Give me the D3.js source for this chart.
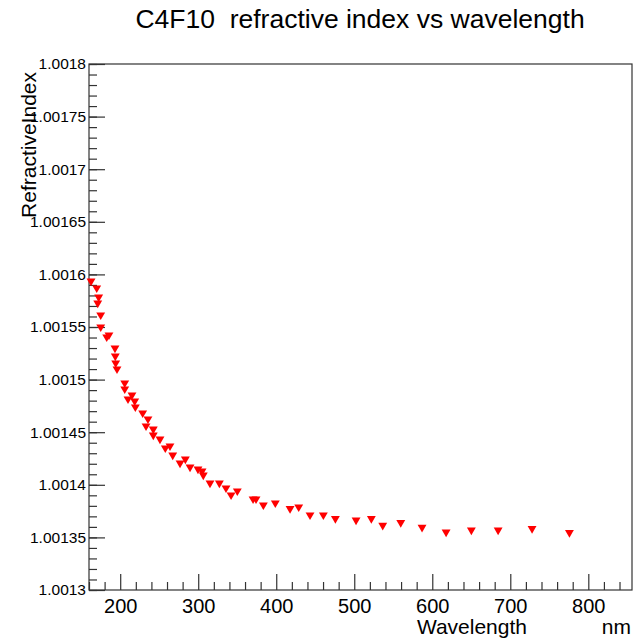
<!DOCTYPE html>
<html lang="en">
  <head>
    <meta charset="utf-8">
    <title>C4F10 refractive index</title>
    <script src="https://cdn.jsdelivr.net/npm/d3@7"></script>
    <style>
      body { margin: 0; background: #fff; }
      text { font-family: "Liberation Sans", Arial, sans-serif; fill: #000; white-space: pre; }
      .axis path, .axis line { stroke: #333; stroke-width: 1.2; }
      .point { fill: #ff0000; }
    </style>
  </head>
  <body>
    <script>
      // wavelength (nm) and refractive index
      var wavelength = [162.6, 169.9, 172.4, 171.2, 175.0, 175.0, 182.7, 185.6, 193.3, 193.7,
                        194.2, 195.9, 205.8, 205.8, 215.1, 210.0, 218.6, 219.4, 228.8, 235.6,
                        233.1, 242.4, 242.4, 251.0, 257.8, 263.8, 267.3, 276.7, 283.5, 289.5,
                        299.7, 304.9, 306.5, 315.1, 327.1, 335.6, 342.1, 350.1, 370.3, 374.1,
                        383.5, 398.8, 417.7, 428.8, 443.3, 460.4, 475.8, 502.3, 521.9, 536.5,
                        559.6, 586.9, 617.7, 650.1, 684.4, 727.9, 775.8];
      var refIndex = [1.0015937, 1.0015871, 1.0015785, 1.0015728, 1.0015614, 1.0015500, 1.0015405, 1.0015424, 1.0015300, 1.0015224,
                      1.0015158, 1.0015101, 1.0014968, 1.0014911, 1.0014854, 1.0014816, 1.0014797, 1.0014740, 1.0014683, 1.0014626,
                      1.0014559, 1.0014530, 1.0014473, 1.0014435, 1.0014350, 1.0014369, 1.0014283, 1.0014207, 1.0014245, 1.0014169,
                      1.0014150, 1.0014131, 1.0014093, 1.0014017, 1.0014017, 1.0013970, 1.0013903, 1.0013941, 1.0013865, 1.0013865,
                      1.0013808, 1.0013827, 1.0013773, 1.0013789, 1.0013713, 1.0013713, 1.0013678, 1.0013665, 1.0013678, 1.0013615,
                      1.0013640, 1.0013596, 1.0013551, 1.0013570, 1.0013570, 1.0013583, 1.0013545];

      var xTicks = [200, 300, 400, 500, 600, 700, 800];
      var yTickLabels = ["1.0013", "1.00135", "1.0014", "1.00145", "1.0015", "1.00155",
                         "1.0016", "1.00165", "1.0017", "1.00175", "1.0018"];
      var xDomain = [160, 856];
      var yDomain = [1.0013, 1.0018];

      var w = 635, h = 638;
      var m = {left: 89, right: 632, top: 64, bottom: 590};

      var dataset = wavelength.map(function (d, i) { return {x: d, y: refIndex[i]}; });

      var svg = d3.select("body").append("svg")
                  .attr("width", w)
                  .attr("height", h);

      var xScale = d3.scaleLinear().domain(xDomain).range([m.left, m.right]);
      var yScale = d3.scaleLinear().domain(yDomain).range([m.bottom, m.top]);

      // frame
      svg.append("rect")
         .attr("x", m.left).attr("y", m.top)
         .attr("width", m.right - m.left).attr("height", m.bottom - m.top)
         .attr("fill", "none").attr("stroke", "#333").attr("stroke-width", 1.2);

      // minor ticks
      var xMinor = d3.range(160, 857, 20).filter(function (v) { return v % 100 !== 0; });
      var yMinor = d3.range(0, 51).map(function (i) { return 1.0013 + i * 0.00001; });

      svg.append("g")
         .attr("class", "axis")
         .attr("transform", "translate(0," + m.bottom + ")")
         .call(d3.axisBottom(xScale).tickValues(xMinor).tickSize(-8).tickFormat(""))
         .select(".domain").remove();

      svg.append("g")
         .attr("class", "axis")
         .attr("transform", "translate(" + m.left + ",0)")
         .call(d3.axisLeft(yScale).tickValues(yMinor).tickSize(-8).tickFormat(""))
         .select(".domain").remove();

      // major ticks with labels
      var xAxis = svg.append("g")
         .attr("class", "axis")
         .attr("transform", "translate(0," + m.bottom + ")")
         .call(d3.axisBottom(xScale).tickValues(xTicks).tickSize(-16).tickPadding(8)
                 .tickFormat(d3.format("d")));
      xAxis.select(".domain").remove();
      xAxis.selectAll("text").attr("font-size", 20).attr("dy", "0.75em");

      var yAxis = svg.append("g")
         .attr("class", "axis")
         .attr("transform", "translate(" + m.left + ",0)")
         .call(d3.axisLeft(yScale)
                 .tickValues(yTickLabels.map(Number))
                 .tickSize(-16).tickPadding(3)
                 .tickFormat(function (d, i) { return yTickLabels[i]; }));
      yAxis.select(".domain").remove();
      yAxis.selectAll("text").attr("font-size", 15.5);

      // points: full down triangles
      var tri = d3.symbol().type(d3.symbolTriangle).size(34);
      svg.selectAll(".point")
         .data(dataset)
         .enter().append("path")
         .attr("class", "point")
         .attr("d", tri)
         .attr("transform", function (d) {
           return "translate(" + xScale(d.x) + "," + yScale(d.y) + ") rotate(180)";
         });

      // titles
      svg.append("text")
         .attr("x", 360).attr("y", 28)
         .attr("text-anchor", "middle")
         .attr("font-size", 26.5)
         .text("C4F10  refractive index vs wavelength");

      svg.append("text")
         .attr("transform", "translate(36,72) rotate(-90)")
         .attr("text-anchor", "end")
         .attr("font-size", 21)
         .text("RefractiveIndex");

      svg.append("text")
         .attr("x", 527).attr("y", 634)
         .attr("text-anchor", "end")
         .attr("font-size", 21)
         .text("Wavelength");

      svg.append("text")
         .attr("x", 631).attr("y", 634)
         .attr("text-anchor", "end")
         .attr("font-size", 21)
         .text("nm");
    </script>
  </body>
</html>
